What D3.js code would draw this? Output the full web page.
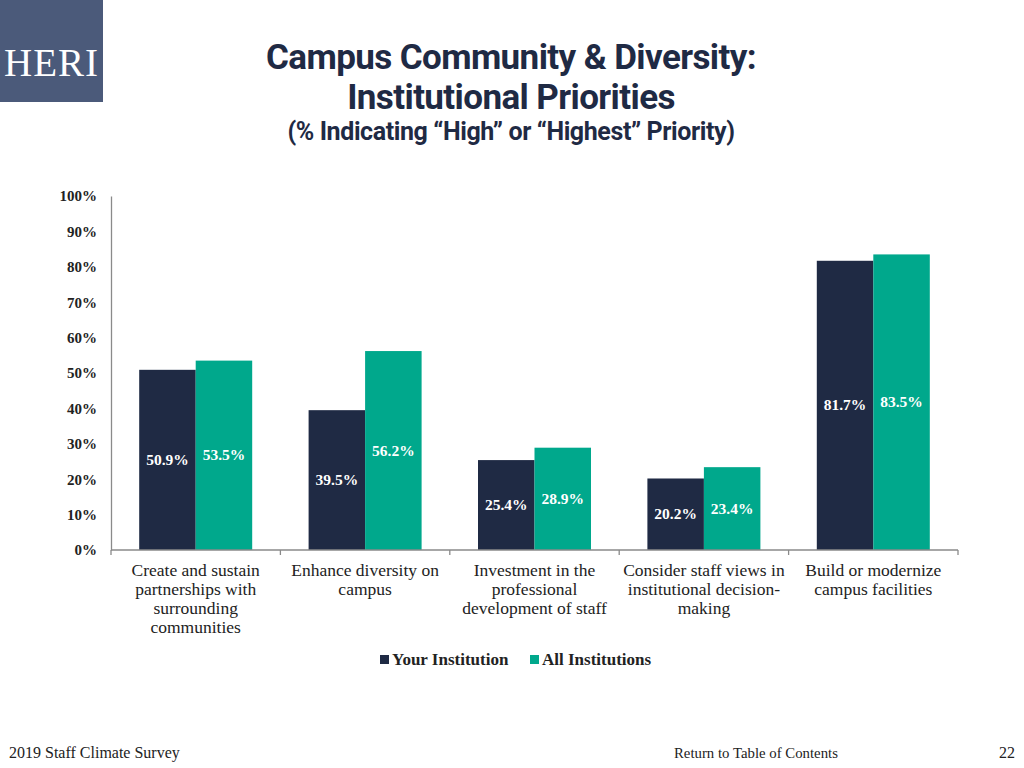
<!DOCTYPE html>
<html><head><meta charset="utf-8">
<script src="https://cdn.jsdelivr.net/npm/d3@7/dist/d3.min.js"></script>
<style>body{margin:0;background:#fff}svg{display:block}</style>
</head><body>
<svg id="c" width="1024" height="768"></svg>
<script>
const categories = [
  ["Create and sustain","partnerships with","surrounding","communities"],
  ["Enhance diversity on","campus"],
  ["Investment in the","professional","development of staff"],
  ["Consider staff views in","institutional decision-","making"],
  ["Build or modernize","campus facilities"]
];
const seriesNames = ["Your Institution","All Institutions"];
const yourInstitution = [50.9, 39.5, 25.4, 20.2, 81.7];
const allInstitutions = [53.5, 56.2, 28.9, 23.4, 83.5];
const yTicks = [0,10,20,30,40,50,60,70,80,90,100];
const colors = ["#1f2a44", "#00a88c"];

const svg = d3.select("#c");
const serif = "'Liberation Serif','DejaVu Serif',serif";
const sans = "'Roboto','Liberation Sans',sans-serif";

// Logo
svg.append("rect").attr("x",0).attr("y",0).attr("width",103).attr("height",102).attr("fill","#4b5a7a");
svg.append("text").attr("x",51.5).attr("y",76).attr("text-anchor","middle").attr("fill","#fff")
  .attr("font-family",serif).attr("font-size",39).attr("letter-spacing",1).text("HERI");

// Title
const tc = "#1f2a44";
svg.append("text").attr("x",511).attr("y",69).attr("text-anchor","middle").attr("fill",tc)
  .attr("font-family",sans).attr("font-weight","bold").attr("font-size",35).attr("letter-spacing",-0.6).text("Campus Community & Diversity:");
svg.append("text").attr("x",511).attr("y",109).attr("text-anchor","middle").attr("fill",tc)
  .attr("font-family",sans).attr("font-weight","bold").attr("font-size",35).attr("letter-spacing",-0.6).text("Institutional Priorities");
svg.append("text").attr("x",511).attr("y",140).attr("text-anchor","middle").attr("fill",tc)
  .attr("font-family",sans).attr("font-weight","bold").attr("font-size",25).attr("letter-spacing",-0.4).text("(% Indicating \u201cHigh\u201d or \u201cHighest\u201d Priority)");

const x0 = 111, x1 = 958, yTop = 196, yBot = 550;
const x = d3.scaleBand().domain(d3.range(categories.length)).range([x0, x1]).padding(0);
const xs = d3.scaleBand().domain([0,1]).range([0, 113]).padding(0);
const y = d3.scaleLinear().domain([0,100]).range([yBot, yTop]);
const groupOff = (x.bandwidth() - 113)/2;

// Y axis
const gy = svg.append("g").attr("transform",`translate(${x0},0)`)
  .call(d3.axisLeft(y).tickValues(yTicks).tickSize(0).tickPadding(14).tickFormat(d=>d+"%"));
gy.select(".domain").attr("stroke","#8a8a8a").attr("stroke-width",1.3);
gy.selectAll("text").attr("font-family",serif).attr("font-weight","bold").attr("font-size",15).attr("fill","#222");

// Bars
const data = [yourInstitution, allInstitutions];
data.forEach((vals, s) => {
  const g = svg.append("g");
  g.selectAll("rect").data(vals).join("rect")
    .attr("x",(d,i)=>x(i)+groupOff+xs(s))
    .attr("y",d=>y(d))
    .attr("width",xs.bandwidth())
    .attr("height",d=>yBot-y(d))
    .attr("fill",colors[s]);
  g.selectAll("text").data(vals).join("text")
    .attr("x",(d,i)=>x(i)+groupOff+xs(s)+xs.bandwidth()/2)
    .attr("y",d=>y(d/2)+5)
    .attr("text-anchor","middle").attr("fill","#fff")
    .attr("font-family",serif).attr("font-weight","bold").attr("font-size",15.5)
    .text(d=>d.toFixed(1)+"%");
});

// X axis
const gx = svg.append("g").attr("transform",`translate(0,${yBot})`);
gx.append("line").attr("x1",x0).attr("x2",x1).attr("y1",0).attr("y2",0).attr("stroke","#8a8a8a").attr("stroke-width",1.5);
const bounds = d3.range(categories.length+1).map(i => i<categories.length ? x(i) : x1);
gx.selectAll("line.t").data(bounds).join("line").attr("class","t")
  .attr("x1",d=>d).attr("x2",d=>d).attr("y1",0).attr("y2",5).attr("stroke","#8a8a8a").attr("stroke-width",1.3);

// Category labels
categories.forEach((lines,i)=>{
  const t = svg.append("text").attr("text-anchor","middle").attr("fill","#222")
    .attr("font-family",serif).attr("font-size",17.5);
  lines.forEach((ln,j)=>{
    t.append("tspan").attr("x",x(i)+x.bandwidth()/2).attr("y",576+j*19).text(ln);
  });
});

// Legend
const leg = svg.append("g");
const legItems = [{x:380, name:seriesNames[0], c:colors[0]},{x:530, name:seriesNames[1], c:colors[1]}];
legItems.forEach(it=>{
  leg.append("rect").attr("x",it.x).attr("y",655).attr("width",9).attr("height",9).attr("fill",it.c);
  leg.append("text").attr("x",it.x+12).attr("y",665).attr("fill","#222").attr("font-family",serif)
    .attr("font-weight","bold").attr("font-size",17).text(it.name);
});

// Footer
svg.append("text").attr("x",9).attr("y",758).attr("font-family",serif).attr("font-size",16).attr("fill","#222").text("2019 Staff Climate Survey");
svg.append("text").attr("x",674).attr("y",758).attr("font-family",serif).attr("font-size",14.8).attr("fill","#222").text("Return to Table of Contents");
svg.append("text").attr("x",1015).attr("y",758).attr("text-anchor","end").attr("font-family",serif).attr("font-size",16).attr("fill","#222").text("22");
</script>
</body></html>
